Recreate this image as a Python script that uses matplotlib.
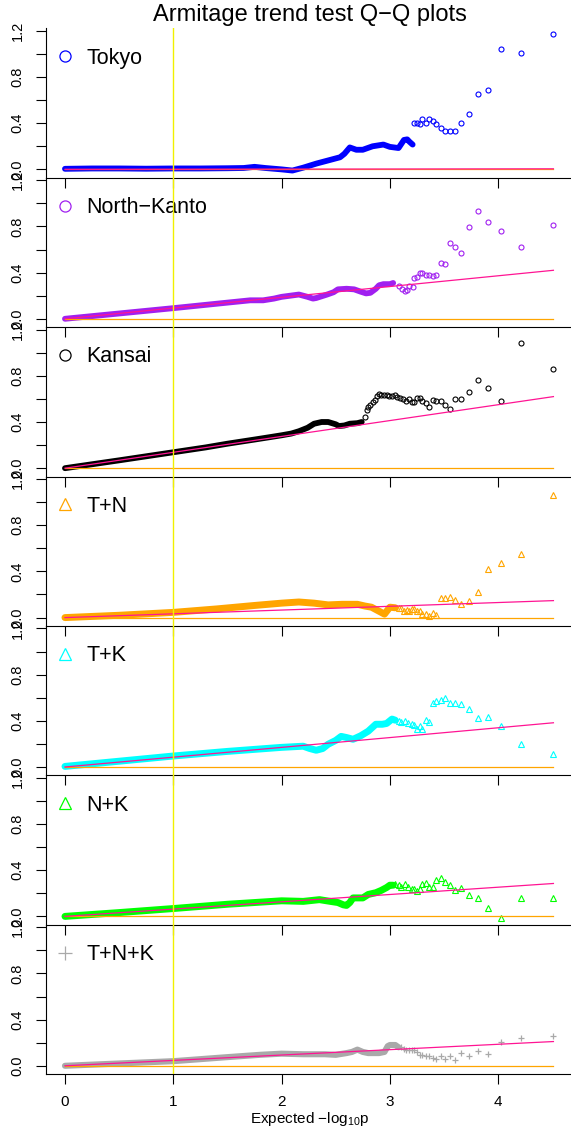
import matplotlib
matplotlib.use("Agg")
import matplotlib.pyplot as plt
from matplotlib.lines import Line2D

plt.rcParams["font.family"] = ["Liberation Sans", "DejaVu Sans"]
plt.rcParams["mathtext.fontset"] = "custom"
plt.rcParams["mathtext.rm"] = "Liberation Sans"
plt.rcParams["mathtext.it"] = "Liberation Sans:italic"

TITLE = "Armitage trend test Q\u2212Q plots"
XLABEL = "Expected \u2212log$_{10}$p"
NAMES = ["Tokyo", "North\u2212Kanto", "Kansai", "T+N", "T+K", "N+K", "T+N+K"]
COLORS = ["#0000FF", "#A020F0", "#000000", "#FFA500", "#00FFFF", "#00FF00", "#A9A9A9"]
MARKERS = ["o", "o", "o", "^", "^", "^", "+"]

X_TICKS = [0, 1, 2, 3, 4]
Y_TICKS = [0.0, 0.2, 0.4, 0.6, 0.8, 1.0, 1.2]
Y_TICKLABELS = ["0.0", "", "0.4", "", "0.8", "", "1.2"]

# reference lines: y = 0 and the fitted line, both up to the largest expected value
X_MAX = 4.51
FIT_END = [0.005, 0.42, 0.62, 0.147, 0.383, 0.285, 0.21]

# expected -log10 p of the 19 most extreme markers (shared by all panels)
TAIL_X = [4.51, 4.21, 4.03, 3.91, 3.81, 3.73, 3.66, 3.60, 3.555, 3.51,
          3.47, 3.43, 3.40, 3.365, 3.33, 3.30, 3.275, 3.25, 3.225]

# Tokyo
tokyo_band_x = [0.00, 0.25, 0.50, 0.75, 1.00, 1.25, 1.50, 1.65, 1.75, 1.85, 2.00, 2.10, 2.20,
                2.32, 2.44, 2.54, 2.58, 2.63, 2.69, 2.75, 2.84, 2.94, 3.00, 3.08, 3.13, 3.16,
                3.18, 3.21]
tokyo_band_y = [0.005, 0.008, 0.008, 0.006, 0.008, 0.008, 0.010, 0.012, 0.022, 0.012, 0.000,
                -0.010, 0.015, 0.050, 0.080, 0.105, 0.135, 0.190, 0.170, 0.170, 0.200, 0.215,
                0.195, 0.185, 0.255, 0.260, 0.240, 0.215]
tokyo_mid_x = []
tokyo_mid_y = []
tokyo_tail_y = [1.175, 1.01, 1.045, 0.69, 0.652, 0.479, 0.40, 0.329, 0.329, 0.329,
                0.358, 0.392, 0.416, 0.433, 0.405, 0.433, 0.392, 0.404, 0.404]

# North-Kanto
nk_band_x = [0.00, 0.50, 1.00, 1.50, 1.71, 1.83, 1.93, 2.00, 2.08, 2.16, 2.24, 2.29, 2.32,
             2.42, 2.48, 2.52, 2.60, 2.67, 2.73, 2.78, 2.82, 2.87, 2.90, 2.94, 3.00, 3.03]
nk_band_y = [0.000, 0.046, 0.092, 0.140, 0.160, 0.160, 0.175, 0.190, 0.200, 0.210, 0.190,
             0.175, 0.180, 0.210, 0.230, 0.255, 0.260, 0.255, 0.235, 0.220, 0.225, 0.260,
             0.290, 0.300, 0.300, 0.310]
nk_mid_x = [3.08, 3.11, 3.14, 3.16, 3.18, 3.21]
nk_mid_y = [0.280, 0.260, 0.240, 0.248, 0.286, 0.274]
nk_tail_y = [0.814, 0.62, 0.762, 0.837, 0.93, 0.797, 0.572, 0.618, 0.658, 0.471,
             0.48, 0.376, 0.37, 0.378, 0.381, 0.393, 0.396, 0.361, 0.35]

# Kansai
ks_band_x = [0.00, 0.50, 1.00, 1.30, 1.50, 1.75, 1.90, 2.00, 2.09, 2.16, 2.24, 2.30, 2.37,
             2.43, 2.50, 2.53, 2.58, 2.63, 2.70, 2.74]
ks_band_y = [0.000, 0.068, 0.138, 0.180, 0.212, 0.248, 0.270, 0.285, 0.300, 0.320, 0.350,
             0.385, 0.400, 0.400, 0.380, 0.365, 0.370, 0.385, 0.390, 0.400]
ks_mid_x = [2.77, 2.785, 2.80, 2.82, 2.84, 2.86, 2.88, 2.90, 2.92, 2.945, 2.97, 2.995,
            3.02, 3.045, 3.07, 3.095, 3.12, 3.15, 3.175, 3.20]
ks_mid_y = [0.44, 0.50, 0.53, 0.55, 0.575, 0.59, 0.625, 0.645, 0.63, 0.635, 0.63, 0.625,
            0.625, 0.635, 0.62, 0.61, 0.60, 0.58, 0.596, 0.57]
ks_tail_y = [0.855, 1.085, 0.579, 0.692, 0.768, 0.663, 0.60, 0.602, 0.515, 0.544,
             0.579, 0.579, 0.59, 0.532, 0.561, 0.579, 0.608, 0.61, 0.57]

# T+N
tn_band_x = [0.00, 0.50, 1.00, 1.40, 1.75, 2.00, 2.16, 2.30, 2.43, 2.56, 2.70, 2.77, 2.83,
             2.90, 2.95, 3.00, 3.05]
tn_band_y = [0.000, 0.020, 0.045, 0.075, 0.105, 0.125, 0.135, 0.125, 0.110, 0.115, 0.115,
             0.100, 0.090, 0.055, 0.030, 0.090, 0.085]
tn_mid_x = [3.08, 3.10, 3.13, 3.155, 3.18, 3.20]
tn_mid_y = [0.080, 0.086, 0.060, 0.070, 0.058, 0.072]
tn_tail_y = [1.06, 0.553, 0.475, 0.423, 0.222, 0.144, 0.121, 0.15, 0.178, 0.173,
             0.167, 0.023, 0.043, 0.014, 0.035, 0.035, 0.058, 0.058, 0.072]

# T+K
tk_band_x = [0.00, 0.50, 1.00, 1.50, 2.00, 2.20, 2.26, 2.32, 2.38, 2.43, 2.50, 2.55, 2.60,
             2.66, 2.73, 2.80, 2.87, 2.93, 2.97, 3.02, 3.05]
tk_band_y = [0.005, 0.050, 0.095, 0.135, 0.170, 0.180, 0.160, 0.145, 0.160, 0.197, 0.230,
             0.265, 0.255, 0.240, 0.270, 0.310, 0.370, 0.370, 0.377, 0.415, 0.405]
tk_mid_x = [3.08, 3.10, 3.14, 3.17, 3.20]
tk_mid_y = [0.40, 0.39, 0.40, 0.385, 0.371]
tk_tail_y = [0.11, 0.197, 0.351, 0.435, 0.42, 0.50, 0.545, 0.55, 0.55, 0.597,
             0.583, 0.574, 0.557, 0.388, 0.41, 0.333, 0.354, 0.333, 0.36]

# N+K
nkk_band_x = [0.00, 0.50, 1.00, 1.50, 2.00, 2.20, 2.35, 2.45, 2.52, 2.57, 2.60, 2.63, 2.66,
              2.75, 2.80, 2.87, 2.92, 2.97, 3.00, 3.03]
nkk_band_y = [0.000, 0.033, 0.068, 0.105, 0.135, 0.130, 0.145, 0.130, 0.120, 0.100, 0.095,
              0.120, 0.160, 0.160, 0.190, 0.205, 0.225, 0.250, 0.270, 0.270]
nkk_mid_x = [3.05, 3.08, 3.10, 3.14, 3.17, 3.20]
nkk_mid_y = [0.282, 0.270, 0.253, 0.282, 0.253, 0.239]
nkk_tail_y = [0.158, 0.158, -0.014, 0.072, 0.158, 0.187, 0.25, 0.23, 0.268, 0.296,
              0.331, 0.317, 0.253, 0.253, 0.285, 0.282, 0.239, 0.219, 0.239]

# T+N+K
all_band_x = [0.00, 0.50, 1.00, 1.50, 1.80, 2.00, 2.20, 2.40, 2.50, 2.60, 2.65, 2.70, 2.75,
              2.80, 2.90, 2.95, 2.98, 3.00, 3.05, 3.08]
all_band_y = [0.000, 0.020, 0.040, 0.075, 0.095, 0.105, 0.100, 0.100, 0.095, 0.110, 0.120,
              0.140, 0.120, 0.110, 0.110, 0.120, 0.170, 0.180, 0.180, 0.160]
all_mid_x = [3.10, 3.13, 3.15, 3.18, 3.20]
all_mid_y = [0.160, 0.145, 0.141, 0.135, 0.133]
all_tail_y = [0.257, 0.242, 0.21, 0.104, 0.124, 0.089, 0.112, 0.046, 0.089, 0.06,
              0.081, 0.06, 0.066, 0.089, 0.089, 0.095, 0.095, 0.118, 0.133]

BANDS = [(tokyo_band_x, tokyo_band_y), (nk_band_x, nk_band_y), (ks_band_x, ks_band_y),
         (tn_band_x, tn_band_y), (tk_band_x, tk_band_y), (nkk_band_x, nkk_band_y),
         (all_band_x, all_band_y)]
MIDS = [(tokyo_mid_x, tokyo_mid_y), (nk_mid_x, nk_mid_y), (ks_mid_x, ks_mid_y),
        (tn_mid_x, tn_mid_y), (tk_mid_x, tk_mid_y), (nkk_mid_x, nkk_mid_y),
        (all_mid_x, all_mid_y)]
TAILS = [tokyo_tail_y, nk_tail_y, ks_tail_y, tn_tail_y, tk_tail_y, nkk_tail_y, all_tail_y]

# layout in pixels of the 571x1128 picture
W, H = 571, 1128
LEFT_PX, WIDTH_PX = 45.7, 528.3
TOP_PX, PANEL_PX = 28.3, 149.4

fig = plt.figure(figsize=(W / 100, H / 100), dpi=100)

for k, name in enumerate(NAMES):
    bottom = 1 - (TOP_PX + PANEL_PX * (k + 1)) / H
    ax = fig.add_axes([LEFT_PX / W, bottom, WIDTH_PX / W, PANEL_PX / H])
    ax.patch.set_alpha(0)
    color, marker = COLORS[k], MARKERS[k]

    if marker == "o":
        band_lw, ms, mew = 4.2, 3.6, 0.8
    elif marker == "^":
        band_lw, ms, mew = 5.0, 4.2, 0.8
    else:
        band_lw, ms, mew = 4.4, 5.0, 0.9

    bx, by = BANDS[k]
    ax.plot(bx, by, color=color, lw=band_lw, solid_capstyle="round",
            solid_joinstyle="round", zorder=2)
    mx, my = MIDS[k]
    ax.plot(mx + TAIL_X, my + TAILS[k], ls="none", marker=marker, ms=ms,
            mfc="none", mec=color, mew=mew, zorder=3)

    ax.plot([0, X_MAX], [0, 0], color="#FFA500", lw=0.9, zorder=4)
    ax.plot([0, X_MAX], [0, FIT_END[k]], color="#FF1493", lw=0.9, zorder=5)
    ax.axvline(1, color="#F0F000", lw=1.0, zorder=6)

    ax.set_xlim(-0.178, 4.70)
    ax.set_ylim(-0.072, 1.222)
    ax.spines["top"].set_visible(False)
    ax.spines["right"].set_visible(False)
    ax.spines["left"].set_linewidth(0.8)
    ax.spines["bottom"].set_linewidth(0.8)

    ax.set_xticks(X_TICKS)
    ax.set_yticks(Y_TICKS)
    ax.set_yticklabels(Y_TICKLABELS, rotation=90, va="center", fontsize=10.5)
    ax.tick_params(axis="both", direction="out", length=7, width=0.8)
    ax.tick_params(axis="y", pad=8)
    if k < len(NAMES) - 1:
        ax.set_xticklabels([])
    else:
        ax.tick_params(axis="x", labelsize=11, pad=8)
        ax.set_xlabel(XLABEL, fontsize=11, labelpad=1)

    handle = Line2D([], [], ls="none", marker=marker, ms=8 if marker != "+" else 10,
                    mfc="none", mec=color, mew=0.9)
    ax.legend([handle], [name], loc="center left", bbox_to_anchor=(0.0165, 0.80),
              frameon=False, fontsize=15.5, handlelength=1.0, handletextpad=0.5,
              borderaxespad=0, borderpad=0)

fig.text((LEFT_PX + WIDTH_PX / 2) / W, 1 - 15.5 / H, TITLE, ha="center", va="center",
         fontsize=17)

fig.savefig("out.png", dpi=100)
